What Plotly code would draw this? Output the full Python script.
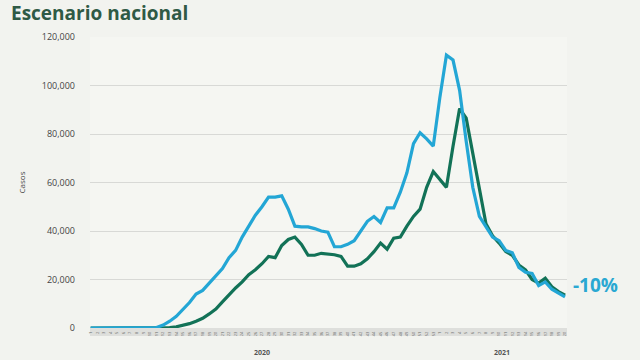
import plotly.graph_objects as go

weeks_2020 = list(range(1, 54))
weeks_2021 = list(range(1, 21))
week_labels = [str(w) for w in weeks_2020] + [str(w) for w in weeks_2021]

estimados = [0, 0, 0, 0, 0, 0, 0, 0, 0, 0,
             200, 1200, 2800, 4800, 7800, 10500, 14000, 15500, 18500, 21500,
             24500, 29000, 32000, 37500, 42000, 46500, 50000, 54000, 54000, 54500,
             49000, 42000, 41700, 41700, 41000, 40000, 39500, 33500, 33500, 34500,
             36000, 40000, 44000, 46000, 43500, 49500, 49500, 56000, 64000, 76000,
             80500, 78000, 75000, 95000, 112500, 110500, 98000, 77000, 58000, 46000,
             42000, 37500, 36000, 32000, 31000, 25000, 23000, 22500, 17500, 19000,
             16000, 14500, 12800]

confirmados = [0, 0, 0, 0, 0, 0, 0, 0, 0, 0,
               0, 0, 200, 500, 1000, 1800, 2800, 4000, 5800, 7800,
               10800, 13800, 16500, 19000, 22000, 24000, 26500, 29500, 29000, 34000,
               36500, 37500, 34500, 30000, 30000, 30800, 30500, 30200, 29500, 25500,
               25500, 26500, 28500, 31500, 35000, 32500, 37000, 37500, 42000, 46000,
               49000, 58000, 64500, 61000, 58000, 75000, 90500, 86500, 72000, 56000,
               43000, 38000, 35000, 31500, 30000, 26000, 24000, 20000, 18500, 20500,
               17000, 15000, 13500]

y_ticks = [0, 20000, 40000, 60000, 80000, 100000, 120000]
year_labels = ["2020", "2021"]
change_label = "-10%"

idx = list(range(len(week_labels)))

fig = go.Figure()
fig.add_trace(go.Scatter(x=idx, y=confirmados, mode="lines",
                         line=dict(color="#127257", width=3.2), name="Confirmados"))
fig.add_trace(go.Scatter(x=idx, y=estimados, mode="lines",
                         line=dict(color="#23a6d5", width=3.2), name="Estimados"))

n20 = len(weeks_2020)
n21 = len(weeks_2021)
fig.add_annotation(x=(n20 - 1) / 2, y=0, xref="x", yref="paper", text="<b>%s</b>" % year_labels[0],
                   showarrow=False, yshift=-31, font=dict(size=7, color="#555555", family="Open Sans"))
fig.add_annotation(x=n20 + (n21 - 1) / 2, y=0, xref="x", yref="paper", text="<b>%s</b>" % year_labels[1],
                   showarrow=False, yshift=-31, font=dict(size=7, color="#555555", family="Open Sans"))

fig.add_annotation(x=idx[-1], y=estimados[-1], xref="x", yref="y", text="<b>%s</b>" % change_label,
                   showarrow=False, xanchor="left", xshift=6, yshift=12,
                   font=dict(size=19, color="#2aa8d2", family="Open Sans"))

fig.add_annotation(x=-0.17, y=1.0, xref="paper", yref="paper", text="<b>Escenario nacional</b>",
                   showarrow=False, xanchor="left", yanchor="middle", yshift=24,
                   font=dict(size=19, color="#2f5a45", family="Open Sans"))

fig.update_layout(
    width=640, height=360,
    margin=dict(l=90, r=73, t=37, b=32),
    paper_bgcolor="#f2f3ef",
    plot_bgcolor="#f5f6f2",
    showlegend=False,
    font=dict(family="Open Sans", color="#444444"),
)

fig.update_xaxes(range=[-0.1, len(idx) - 0.7], tickmode="array", tickvals=idx, ticktext=week_labels,
                 tickangle=-90, tickfont=dict(size=4, color="#666666"), showgrid=False,
                 zeroline=False, showline=True, linecolor="#dedfdc", linewidth=8, ticks="",
                 ticklabelstandoff=-6)
fig.update_yaxes(range=[0, 120000], tickvals=y_ticks, tickformat=",d",
                 tickfont=dict(size=9, color="#444444"), showgrid=True, gridcolor="#d8d9d6",
                 gridwidth=1, zeroline=False, ticks="", ticklabelstandoff=14,
                 title=dict(text="Casos", font=dict(size=8, color="#444444"), standoff=14))

fig.write_html("out.html")
